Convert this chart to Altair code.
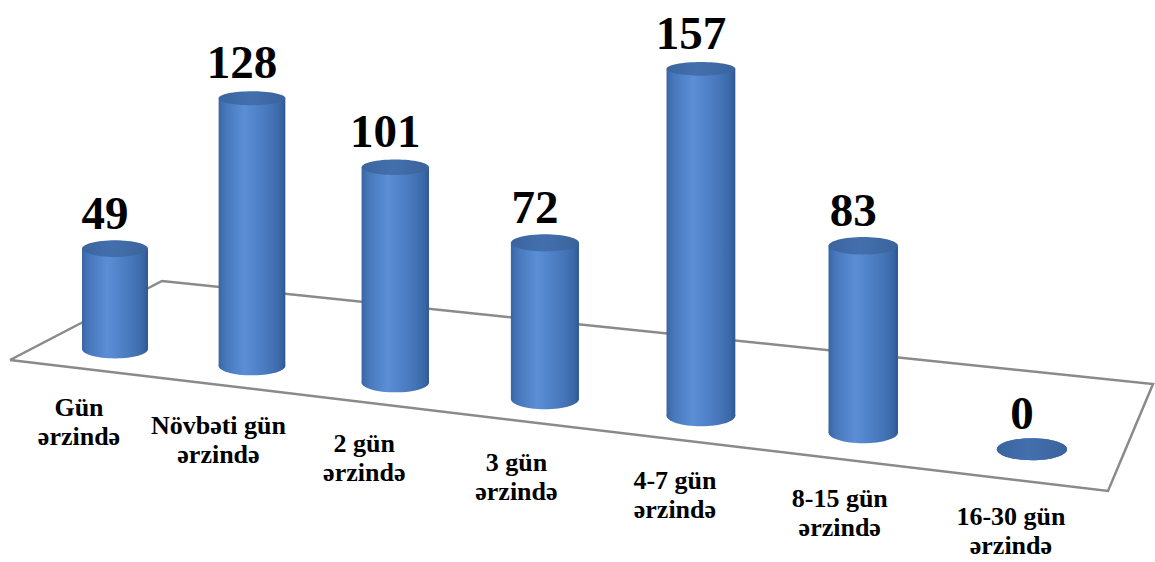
import altair as alt
import pandas as pd

# Response-time buckets and the number of cases in each
categories = [
    ["Gün", "ərzində"],
    ["Növbəti gün", "ərzində"],
    ["2 gün", "ərzində"],
    ["3 gün", "ərzində"],
    ["4-7 gün", "ərzində"],
    ["8-15 gün", "ərzində"],
    ["16-30 gün", "ərzində"],
]
values = [49, 128, 101, 72, 157, 83, 0]

# Outline of the 3-D floor plane, in the chart's pixel frame (closed polygon)
floor_x = [10, 162, 1153, 1108, 10]
floor_y = [360, 281, 384, 491, 360]

W, H = 1155, 562


# Simple perspective layout: slots widen and drop towards the right
def centre_x(i):
    return 115 + 133.8 * i + 3.17 * i * i


def base_y(i):
    return 349 + 16.7 * i


def px_per_unit(i):
    return 2.05 + 0.04 * i


def cyl_width(i):
    return 66 + 0.7 * i


def ellipse_ratio(y):
    # ellipses lower on the page are seen more from above
    return 0.18 + 0.0003 * y


def ellipse_path(r):
    return f"M-1,0A1,{r:.3f},0,1,1,1,0A1,{r:.3f},0,1,1,-1,0Z"


rows = []
for i, (lines, v) in enumerate(zip(categories, values)):
    xc = centre_x(i)
    w = cyl_width(i)
    base = base_y(i)
    top = base - v * px_per_unit(i)
    rows.append(
        dict(
            line1=lines[0],
            line2=lines[1],
            value=v,
            xc=xc,
            x1=xc - w / 2,
            x2=xc + w / 2,
            top=top,
            base=base,
            size=w * w,
            shape_top=ellipse_path(ellipse_ratio(top)),
            shape_base=ellipse_path(ellipse_ratio(base)),
            val_x=xc - 10,
            val_y=top - 20,
            lab_x=xc - 36 + 2.5 * i,
            lab_y=base + 67 + 1.5 * i,
            lab_y2=base + 96 + 1.5 * i,
        )
    )
bars = pd.DataFrame(rows)
floor = pd.DataFrame({"x": floor_x, "y": floor_y, "k": list(range(len(floor_x)))})

xs = alt.Scale(domain=[0, W], nice=False, zero=False)
ys = alt.Scale(domain=[0, H], nice=False, zero=False, reverse=True)

body_grad = alt.Gradient(
    gradient="linear",
    x1=0, x2=1, y1=0, y2=0,
    stops=[
        alt.GradientStop(color="#3965a5", offset=0),
        alt.GradientStop(color="#4777bb", offset=0.1),
        alt.GradientStop(color="#5a8ed5", offset=0.38),
        alt.GradientStop(color="#5284cb", offset=0.55),
        alt.GradientStop(color="#4575b8", offset=0.78),
        alt.GradientStop(color="#3a67a6", offset=0.93),
        alt.GradientStop(color="#2f5892", offset=1),
    ],
)
top_grad = alt.Gradient(
    gradient="linear",
    x1=0, x2=1, y1=0, y2=0,
    stops=[
        alt.GradientStop(color="#3a649f", offset=0),
        alt.GradientStop(color="#4370ad", offset=0.45),
        alt.GradientStop(color="#3a639c", offset=1),
    ],
)

floor_layer = alt.Chart(floor).mark_line(color="#8a8a8a", strokeWidth=2.5).encode(
    x=alt.X("x:Q", scale=xs, axis=None),
    y=alt.Y("y:Q", scale=ys, axis=None),
    order="k:Q",
)

bottom_layer = alt.Chart(bars).mark_point(
    filled=True, fill=body_grad, opacity=1, strokeWidth=0
).encode(
    x=alt.X("xc:Q", scale=xs, axis=None),
    y=alt.Y("base:Q", scale=ys, axis=None),
    shape=alt.Shape("shape_base:N", scale=None),
    size=alt.Size("size:Q", scale=None),
)

body_layer = alt.Chart(bars).mark_rect(fill=body_grad).encode(
    x=alt.X("x1:Q", scale=xs, axis=None),
    x2="x2:Q",
    y=alt.Y("top:Q", scale=ys, axis=None),
    y2="base:Q",
)

top_layer = alt.Chart(bars).mark_point(
    filled=True, fill=top_grad, opacity=1, strokeWidth=0
).encode(
    x=alt.X("xc:Q", scale=xs, axis=None),
    y=alt.Y("top:Q", scale=ys, axis=None),
    shape=alt.Shape("shape_top:N", scale=None),
    size=alt.Size("size:Q", scale=None),
)

serif_bold = dict(font="Liberation Serif", fontWeight="bold", color="#000000",
                  baseline="alphabetic", align="center")

value_layer = alt.Chart(bars).mark_text(fontSize=47, **serif_bold).encode(
    x=alt.X("val_x:Q", scale=xs, axis=None),
    y=alt.Y("val_y:Q", scale=ys, axis=None),
    text="value:Q",
)

label1_layer = alt.Chart(bars).mark_text(fontSize=26, **serif_bold).encode(
    x=alt.X("lab_x:Q", scale=xs, axis=None),
    y=alt.Y("lab_y:Q", scale=ys, axis=None),
    text="line1:N",
)

label2_layer = alt.Chart(bars).mark_text(fontSize=26, **serif_bold).encode(
    x=alt.X("lab_x:Q", scale=xs, axis=None),
    y=alt.Y("lab_y2:Q", scale=ys, axis=None),
    text="line2:N",
)

chart = (
    alt.layer(floor_layer, bottom_layer, body_layer, top_layer,
              value_layer, label1_layer, label2_layer)
    .properties(width=W, height=H, padding=0, autosize="none", background="#ffffff")
    .configure_view(stroke=None)
)

chart.save("out.html", embed_options={"renderer": "svg", "actions": False})
